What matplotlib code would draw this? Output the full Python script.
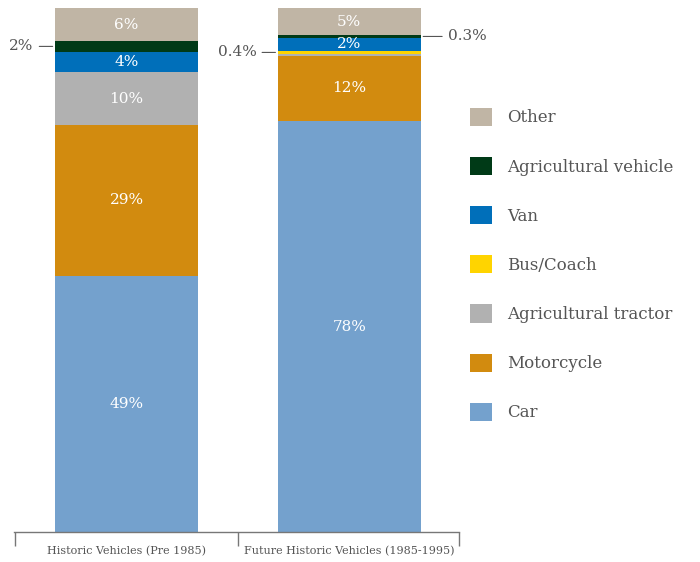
import matplotlib
matplotlib.use('Agg')
import matplotlib.pyplot as plt
from matplotlib.patches import Patch

plt.rcParams['font.family'] = ['DejaVu Serif']

groups = ['Historic Vehicles (Pre 1985)', 'Future Historic Vehicles (1985-1995)']
series = ['Car', 'Motorcycle', 'Agricultural tractor', 'Bus/Coach', 'Van',
          'Agricultural vehicle', 'Other']
colors = ['#74a1cd', '#d28b0f', '#b1b1b1', '#ffd400', '#006fba', '#003a17', '#c0b5a5']

# share of each vehicle type (%) per group, bottom to top
historic = [49.0, 28.7, 10.2, 0.0, 3.8, 2.1, 6.2]
future = [78.5, 12.5, 0.3, 0.6, 2.5, 0.5, 5.1]

historic_labels = ['49%', '29%', '10%', '', '4%', '2%', '6%']
future_labels = ['78%', '12%', '', '0.4%', '2%', '0.3%', '5%']

fig = plt.figure(figsize=(7, 5.62), dpi=100)
ax = fig.add_axes([0.02, 0.053, 0.635, 0.932])

grey = '#555555'
bw = 0.643
for i, (vals, labs) in enumerate([(historic, historic_labels), (future, future_labels)]):
    bottom = 0
    for j, v in enumerate(vals):
        ax.bar(i, v, bw, bottom=bottom, color=colors[j], linewidth=0)
        lab = labs[j]
        mid = bottom + v / 2
        if lab and v >= 2.3:
            ax.text(i, mid, lab, ha='center', va='center', color='white', fontsize=11)
        elif lab:
            if i == 0 or series[j] == 'Bus/Coach':
                ax.annotate(lab, xy=(i - bw / 2 - 0.01, mid), xytext=(i - bw / 2 - 0.095, mid),
                            ha='right', va='center', color=grey, fontsize=11,
                            arrowprops=dict(arrowstyle='-', color=grey, lw=0.8,
                                            shrinkA=2, shrinkB=0))
            else:
                ax.annotate(lab, xy=(i + bw / 2 + 0.01, mid), xytext=(i + bw / 2 + 0.12, mid),
                            ha='left', va='center', color=grey, fontsize=11,
                            arrowprops=dict(arrowstyle='-', color=grey, lw=0.8,
                                            shrinkA=2, shrinkB=0))
        bottom += v

ax.set_xlim(-0.505, 1.49)
ax.set_ylim(0, 100)
for s in ['top', 'right', 'left']:
    ax.spines[s].set_visible(False)
ax.spines['bottom'].set_color('#777777')
ax.spines['bottom'].set_linewidth(1)
ax.set_yticks([])
ax.set_xticks([-0.5, 0.5, 1.49])
ax.set_xticklabels([])
ax.tick_params(axis='x', which='major', length=10, color='#777777', width=1)
ax.set_xticks([0, 1], minor=True)
ax.set_xticklabels(groups, minor=True, fontsize=8, color=grey)
ax.tick_params(axis='x', which='minor', length=0, pad=10)

handles = [Patch(facecolor=colors[j], edgecolor='none', label=series[j])
           for j in range(len(series) - 1, -1, -1)]
fig.legend(handles=handles, loc='upper left', bbox_to_anchor=(0.66, 0.823),
           frameon=False, fontsize=12, labelcolor=grey, handlelength=1.3,
           handleheight=1.3, labelspacing=1.83, handletextpad=0.9, borderpad=0)

fig.savefig('out.png')
